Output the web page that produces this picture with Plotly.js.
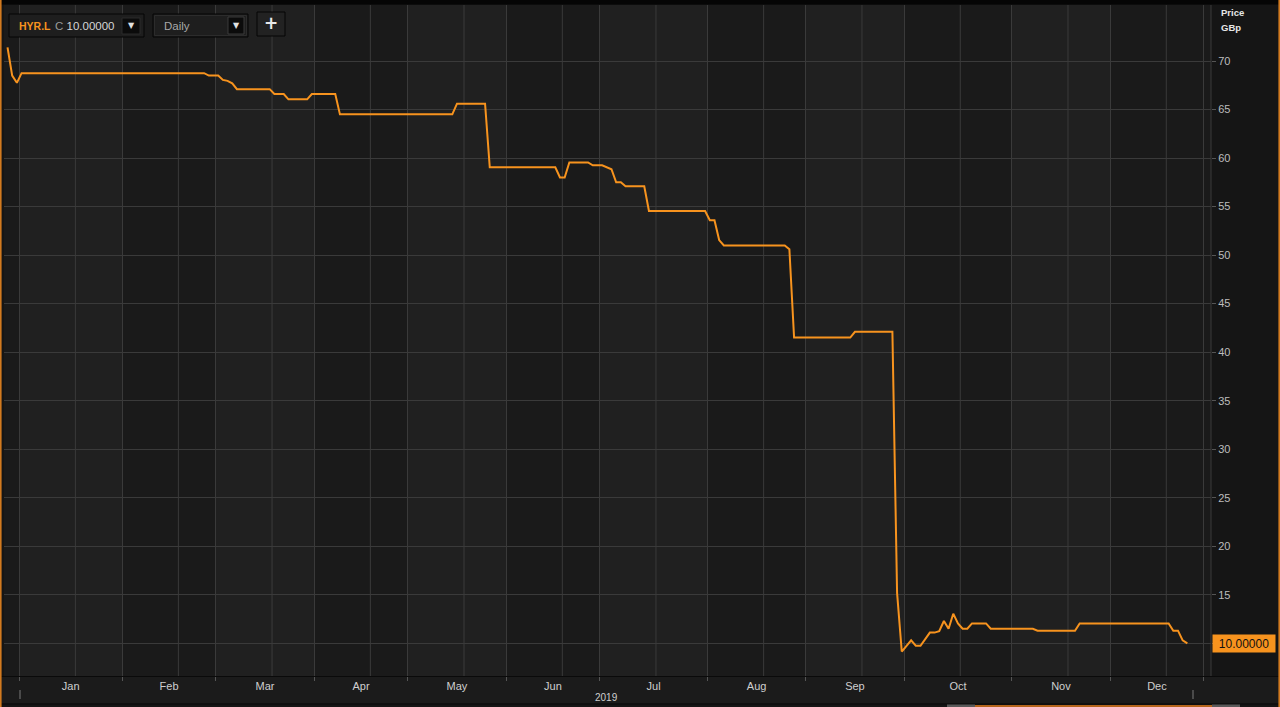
<!DOCTYPE html>
<html><head><meta charset="utf-8">
<script src="https://cdn.plot.ly/plotly-3.0.1.min.js"></script>
<style>html,body{margin:0;padding:0;background:#161616;overflow:hidden}#chart{width:1280px;height:707px}</style>
</head><body><div id="chart"></div>
<script>
// ---------- data ----------
const ticker = 'HYR.L';
const intervalLabel = 'Daily';
const currency = 'GBp';
const yearLabel = '2019';
const monthNames = ['Jan','Feb','Mar','Apr','May','Jun','Jul','Aug','Sep','Oct','Nov','Dec'];
const yTicks = [10,15,20,25,30,35,40,45,50,55,60,65,70];
const holidays = ['2018-12-25','2018-12-26','2019-01-01','2019-04-19','2019-04-22','2019-05-06','2019-05-27','2019-08-26','2019-12-25','2019-12-26','2020-01-01'];
const dates = ['2018-12-27','2018-12-28','2018-12-31','2019-01-02','2019-02-26','2019-02-27','2019-03-01','2019-03-04','2019-03-05','2019-03-06','2019-03-07','2019-03-18','2019-03-19','2019-03-21','2019-03-22','2019-03-28','2019-03-29','2019-04-05','2019-04-08','2019-05-15','2019-05-16','2019-05-24','2019-05-28','2019-06-17','2019-06-18','2019-06-19','2019-06-20','2019-06-26','2019-06-27','2019-07-01','2019-07-03','2019-07-04','2019-07-05','2019-07-08','2019-07-12','2019-07-15','2019-07-31','2019-08-01','2019-08-02','2019-08-05','2019-08-06','2019-08-23','2019-08-27','2019-08-28','2019-09-13','2019-09-16','2019-09-26','2019-09-27','2019-09-30','2019-10-02','2019-10-03','2019-10-04','2019-10-08','2019-10-09','2019-10-10','2019-10-11','2019-10-14','2019-10-15','2019-10-16','2019-10-17','2019-10-18','2019-10-21','2019-10-24','2019-10-25','2019-11-07','2019-11-08','2019-11-20','2019-11-21','2019-12-18','2019-12-19','2019-12-20','2019-12-23','2019-12-24'];
const prices = [71.4,68.5,67.75,68.75,68.75,68.5,68.5,68.05,67.95,67.7,67.1,67.1,66.6,66.6,66.05,66.05,66.6,66.6,64.5,64.5,65.6,65.6,59.05,59.05,58.0,58.0,59.55,59.55,59.25,59.25,58.85,57.5,57.5,57.1,57.1,54.55,54.55,53.6,53.6,51.55,51.0,51.0,50.6,41.5,41.5,42.1,42.1,15.2,9.15,10.3,9.75,9.75,11.1,11.1,11.25,12.3,11.5,13.05,12.05,11.5,11.5,12.05,12.05,11.5,11.5,11.3,11.3,12.05,12.05,11.3,11.3,10.3,10.0];

// ---------- trading-day calendar (x axis = trading-day index) ----------
function ymd(d){return d.toISOString().slice(0,10);}
const cal = [];
for (let t = Date.UTC(2018,11,20); t <= Date.UTC(2020,0,15); t += 86400000) {
  const d = new Date(t), wd = d.getUTCDay(), s = ymd(d);
  if (wd !== 0 && wd !== 6 && holidays.indexOf(s) < 0) cal.push(s);
}
const base = cal.indexOf('2018-12-27');
const idxOf = s => cal.indexOf(s) - base;
const xs = dates.map(idxOf);

const firstIdx = [];
for (let m = 0; m <= 12; m++) {
  const pref = m < 12 ? '2019-' + String(m+1).padStart(2,'0') : '2020-01';
  firstIdx.push(cal.findIndex(s => s.startsWith(pref)) - base);
}
const bounds = firstIdx.map(i => i - 0.5);
const labelPos = monthNames.map((_, m) => (bounds[m] + bounds[m+1]) / 2);
const midGrid = monthNames.map((_, m) => bounds[m] + 12);

// ---------- geometry helpers ----------
const W = 1280, H = 707, L = 4, R = 1211, T = 5, B = 676;
const PW = R - L, PH = B - T;
const px = X => (X - L) / PW;
const py = Y => (B - Y) / PH;
const lastPrice = prices[prices.length - 1];
const ORANGE = '#f7931e';
const GRID = '#3a3a3a';
// the last-price tag sits on top of the tick label at the same level
const yTickText = yTicks.map(v => Math.abs(v - lastPrice) < 2 ? '' : String(v));

const shapes = [];
function rect(x0,y0,x1,y1,fill,line,layer){
  shapes.push({type:'rect',xref:'paper',yref:'paper',x0:px(x0),x1:px(x1),y0:py(y1),y1:py(y0),
    fillcolor:fill,line:{color:line||fill,width:line?1:0},layer:layer||'above'});
}
// month bands
monthNames.forEach((_, m) => {
  if (m % 2 === 0) shapes.push({type:'rect',xref:'x',yref:'paper',x0:bounds[m],x1:bounds[m+1],y0:0,y1:1,
    fillcolor:'#202020',line:{width:0},layer:'below'});
});
midGrid.forEach(v => shapes.push({type:'line',xref:'x',yref:'paper',x0:v,x1:v,y0:0,y1:1,line:{color:GRID,width:1},layer:'below'}));
// frame pieces
rect(0,0,1280,4.5,'#050505');
rect(0,676,1280,677,'#0a0a0a');
rect(0,677,1280,703.5,'#1b1b1b','', 'below');
rect(0,703.5,1280,704.5,'#0a0a0a');
shapes.push({type:'line',xref:'paper',yref:'paper',x0:px(1211),x1:px(1211),y0:0,y1:1,line:{color:GRID,width:1}});
rect(0,0,1.6,707,'#d27a1f');
rect(1278.4,0,1280,707,'#d27a1f');
// scroll markers
rect(19,690,21,699,'#4a4a4a');
rect(1192,690,1194,699,'#4a4a4a');
rect(947,704.5,975,707,'#5a5a5a');
rect(975,705,1212,707,'#b5651c');
rect(1212,704.5,1240,707,'#5a5a5a');
// toolbar
rect(9,14,144,37,'#1e1e1e','#050505');
rect(122,18,140,34,'#0b0b0b','#2a2a2a');
rect(153,14,248,37,'#1e1e1e','#050505');
rect(154.5,15.5,246.5,35.5,'#1e1e1e','#2c2c2c');
rect(228,17,244,34,'#0b0b0b','#3a3a3a');
rect(257,12,285,36,'#222222','#050505');

const annotations = [
  {xref:'paper',yref:'paper',x:px(17),y:py(26),xanchor:'left',yanchor:'middle',showarrow:false,
   text:'<b>'+ticker+'</b>',font:{size:10.5,color:ORANGE}},
  {xref:'paper',yref:'paper',x:px(53),y:py(26),xanchor:'left',yanchor:'middle',showarrow:false,
   text:'C <span style="color:#d6d6d6">'+lastPrice.toFixed(5)+'</span>',font:{size:11.5,color:'#9a9a9a'}},
  {xref:'paper',yref:'paper',x:px(131),y:py(26),xanchor:'center',yanchor:'middle',showarrow:false,
   text:'▼',font:{size:8,color:'#e0e0e0',family:'DejaVu Sans'}},
  {xref:'paper',yref:'paper',x:px(162),y:py(25.5),xanchor:'left',yanchor:'middle',showarrow:false,
   text:intervalLabel,font:{size:11.5,color:'#a8a8a8'}},
  {xref:'paper',yref:'paper',x:px(236),y:py(26),xanchor:'center',yanchor:'middle',showarrow:false,
   text:'▼',font:{size:8,color:'#e0e0e0',family:'DejaVu Sans'}},
  {xref:'paper',yref:'paper',x:px(271),y:py(23.5),xanchor:'center',yanchor:'middle',showarrow:false,
   text:'<b>+</b>',font:{size:17,color:'#e8e8e8',family:'DejaVu Sans'}},
  {xref:'paper',yref:'paper',x:px(1219),y:py(12),xanchor:'left',yanchor:'middle',showarrow:false,
   text:'<b>Price</b>',font:{size:9.5,color:'#e6e6e6'}},
  {xref:'paper',yref:'paper',x:px(1219),y:py(27),xanchor:'left',yanchor:'middle',showarrow:false,
   text:'<b>'+currency+'</b>',font:{size:9.5,color:'#e6e6e6'}},
  {xref:'x',yref:'paper',x:(bounds[0]+bounds[12])/2 - 1,y:py(697.5),xanchor:'center',yanchor:'middle',showarrow:false,
   text:yearLabel,font:{size:10,color:'#cfcfcf'}},
  {xref:'paper',yref:'y',x:px(1212),y:lastPrice,xanchor:'left',yanchor:'middle',showarrow:false,
   text:lastPrice.toFixed(5),font:{size:12,color:'#111111'},bgcolor:ORANGE,width:58,height:13,borderpad:2,align:'center'}
];

const trace = {x:xs,y:prices,type:'scatter',mode:'lines',line:{color:ORANGE,width:2},hoverinfo:'skip'};

const layout = {
  width:W,height:H,margin:{l:L,r:W-R,t:T,b:H-B,pad:0},
  paper_bgcolor:'#151515',plot_bgcolor:'#1a1a1a',showlegend:false,
  font:{family:'"Liberation Sans", Arial, sans-serif',color:'#c8c8c8',size:11},
  xaxis:{range:[-0.75,257.05],tickmode:'array',tickvals:labelPos,ticktext:monthNames,ticks:'',
    showgrid:false,zeroline:false,showline:false,fixedrange:true,ticklabelstandoff:2,
    tickfont:{size:11,color:'#cfcfcf'},
    minor:{tickmode:'array',tickvals:bounds,ticks:'outside',ticklen:4,tickwidth:1,tickcolor:'#555555',
      showgrid:true,gridcolor:GRID,gridwidth:1}},
  yaxis:{side:'right',range:[6.63,75.77],tickmode:'array',tickvals:yTicks,ticktext:yTickText,ticks:'outside',ticklen:4,
    tickcolor:'#555555',showgrid:true,gridcolor:GRID,gridwidth:1,zeroline:false,showline:false,fixedrange:true,
    tickfont:{size:11,color:'#bdbdbd'}},
  shapes:shapes,annotations:annotations
};
Plotly.newPlot('chart',[trace],layout,{staticPlot:true,displayModeBar:false});
</script></body></html>
